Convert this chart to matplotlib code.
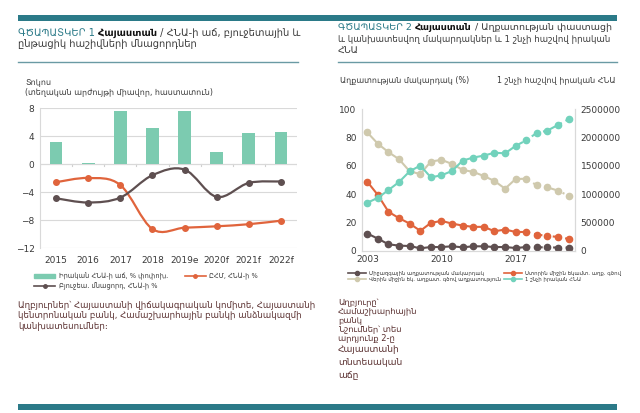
import matplotlib.pyplot as plt
from matplotlib.path import Path
from matplotlib.patches import PathPatch, Rectangle, Patch
from matplotlib.lines import Line2D

# Chart 1: GDP growth, budget and current account balances
years1 = ["2015", "2016", "2017", "2018", "2019e", "2020f", "2021f", "2022f"]
gdp_growth = [3.2, 0.2, 7.5, 5.2, 7.6, 1.7, 4.5, 4.6]
current_acc = [-2.6, -2.0, -3.0, -9.3, -9.1, -8.9, -8.6, -8.1]
budget_bal = [-4.9, -5.5, -4.8, -1.6, -0.8, -4.7, -2.7, -2.5]

# Chart 2: poverty rates and real GDP per capita
years2 = list(range(2003, 2023))
pov_intl = [12.3, 8.7, 4.7, 3.8, 3.5, 1.9, 2.8, 2.8, 3.3, 2.6,
            3.3, 3.3, 2.8, 2.8, 2.1, 2.8, 2.6, 2.6, 2.4, 2.4]
pov_lower = [48.8, 39.4, 27.6, 23.1, 19.3, 14.2, 19.8, 21.2, 19.3, 17.9,
             17.0, 17.0, 13.9, 15.1, 13.4, 13.4, 11.6, 10.6, 9.9, 8.5]
pov_upper = [83.5, 75.5, 69.6, 64.6, 56.1, 54.2, 63.0, 64.2, 61.3, 57.1,
             55.7, 52.8, 49.3, 43.9, 50.7, 50.9, 46.2, 44.8, 42.5, 38.9]
gdp_pc = [849000, 937000, 1073000, 1215000, 1403000, 1504000, 1297000, 1333000,
          1409000, 1592000, 1645000, 1680000, 1730000, 1720000, 1850000, 1950000,
          2080000, 2120000, 2220000, 2320000]
last_actual = 2017

TEAL_DARK = "#2b7a88"
BAR = "#7ccbb0"
ORANGE = "#e0643c"
DARK = "#5e4f50"
BEIGE = "#cfc9ad"
TEAL = "#72d2bc"
TXT = "#3a3a3a"
SRC = "#5a3030"
TSIZE = 7.1


def smooth_path(x, y):
    # Excel-like smoothed line through the points (Catmull-Rom as Bezier)
    verts = [(x[0], y[0])]
    codes = [Path.MOVETO]
    n = len(x)
    for i in range(n - 1):
        xa, ya = (x[i - 1], y[i - 1]) if i > 0 else (x[i], y[i])
        xd, yd = (x[i + 2], y[i + 2]) if i + 2 < n else (x[i + 1], y[i + 1])
        c1 = (x[i] + (x[i + 1] - xa) / 6, y[i] + (y[i + 1] - ya) / 6)
        c2 = (x[i + 1] - (xd - x[i]) / 6, y[i + 1] - (yd - y[i]) / 6)
        verts += [c1, c2, (x[i + 1], y[i + 1])]
        codes += [Path.CURVE4] * 3
    return Path(verts, codes)


fig = plt.figure(figsize=(6.4, 4.13), dpi=100)
W, H = 640, 413


def fx(px):
    return px / W


def fy(py):
    return 1 - py / H


def title(x, y, parts, size=TSIZE):
    t = fig.text(x, y, parts[0][0], color=parts[0][1], fontweight=parts[0][2],
                 fontsize=size, ha="left", va="bottom")
    for txt, color, weight in parts[1:]:
        a = plt.Annotation(txt, xy=(1, 0), xycoords=t, color=color,
                           fontweight=weight, fontsize=size,
                           ha="left", va="bottom", annotation_clip=False)
        fig.add_artist(a)
        t = a


# decorative bars and rules
fig.add_artist(Rectangle((fx(18), fy(21)), fx(599), 6 / H, transform=fig.transFigure,
                         color=TEAL_DARK, lw=0))
fig.add_artist(Rectangle((fx(18), fy(410)), fx(599), 6 / H, transform=fig.transFigure,
                         color=TEAL_DARK, lw=0))
fig.add_artist(Line2D([fx(18), fx(298)], [fy(62), fy(62)], transform=fig.transFigure,
                      color="#6a9aa4", lw=1))
fig.add_artist(Line2D([fx(338), fx(617)], [fy(62), fy(62)], transform=fig.transFigure,
                      color="#6a9aa4", lw=1))

# ---------- left chart ----------
ax1 = fig.add_axes([fx(40), fy(248), fx(257), (248 - 108) / H])
xs = list(range(len(years1)))
ax1.bar(xs, gdp_growth, width=0.4, color=BAR, zorder=2)
for vals, col in [(current_acc, ORANGE), (budget_bal, DARK)]:
    ax1.add_patch(PathPatch(smooth_path(xs, vals), fill=False, edgecolor=col, lw=1.6, zorder=3))
    ax1.plot(xs, vals, "o", color=col, ms=4, zorder=4)
ax1.set_xlim(-0.5, len(years1) - 0.5)
ax1.set_ylim(-12, 8)
ax1.set_yticks([-12, -8, -4, 0, 4, 8])
ax1.set_xticks(xs)
ax1.set_xticklabels(years1)
ax1.grid(axis="y", color="#d9d9d9", lw=0.8, zorder=0)
ax1.axhline(0, color="#d0d0d0", lw=0.8, zorder=1)
for b in [i - 0.5 for i in range(len(years1) + 1)]:
    ax1.plot([b, b], [0, -0.3], color="#d0d0d0", lw=0.8, zorder=1)
for s in ["top", "right", "bottom"]:
    ax1.spines[s].set_visible(False)
ax1.spines["left"].set_color("#d9d9d9")
ax1.tick_params(length=0, labelsize=6.5, colors=TXT, pad=4)
ax1.tick_params(axis="x", pad=6)

h_bar = Patch(color=BAR)
h_ca = Line2D([], [], color=ORANGE, lw=1.2, marker="o", ms=2.5)
h_bb = Line2D([], [], color=DARK, lw=1.2, marker="o", ms=2.5)
fig.legend([h_bar, h_bb, h_ca],
           ["Իրական ՀՆԱ-ի աճ, % փոփոխ.", "Բյուջեա. մնացորդ, ՀՆԱ-ի %", "ԸՀՄ, ՀՆԱ-ի %"],
           ncol=2, loc="upper left", bbox_to_anchor=(fx(28), fy(267)), frameon=False,
           fontsize=4.8, handlelength=3.2, handleheight=0.6, columnspacing=2.5,
           labelspacing=0.35, handletextpad=0.5, labelcolor=TXT)

fig.text(fx(25), fy(85), "Տոկոս", fontsize=5.8, color=TXT)
fig.text(fx(25), fy(95), "(տեղական արժույթի միավոր, հաստատուն)", fontsize=5.8, color=TXT)

src1 = ["Աղբյուրներ՝ Հայաստանի վիճակագրական կոմիտե, Հայաստանի",
        "կենտրոնական բանկ, Համաշխարհային բանկի անձնակազմի",
        "կանխատեսումներ։"]
for i, line in enumerate(src1):
    fig.text(fx(18), fy(308 + i * 10.5), line, fontsize=6.2, color=SRC)

# ---------- right chart ----------
ax2 = fig.add_axes([fx(362), fy(251), fx(575 - 362), (251 - 109) / H])
ax3 = ax2.twinx()
k = years2.index(last_actual) + 1
for axis, vals, col in [(ax2, pov_intl, DARK), (ax2, pov_lower, ORANGE),
                        (ax2, pov_upper, BEIGE), (ax3, gdp_pc, TEAL)]:
    axis.plot(years2[:k], vals[:k], color=col, lw=1.5, zorder=3)
    axis.plot(years2[k - 1:], vals[k - 1:], color=col, lw=1.5, ls=(0, (4, 2, 1, 2)), zorder=3)
    axis.plot(years2, vals, "o", color=col, ms=4.5, zorder=4)
ax2.set_xlim(2002.5, 2022.6)
ax2.set_ylim(0, 100)
ax3.set_ylim(0, 2500000)
ax2.set_yticks([0, 20, 40, 60, 80, 100])
ax3.set_yticks([0, 500000, 1000000, 1500000, 2000000, 2500000])
ax3.set_yticklabels(["0", "500000", "1000000", "1500000", "2000000", "2500000"])
ax2.set_xticks([2003, 2010, 2017])
for a in (ax2, ax3):
    a.spines["top"].set_visible(False)
    for s in ["left", "right", "bottom"]:
        a.spines[s].set_color("#d9d9d9")
    a.tick_params(length=0, labelsize=6.5, colors=TXT, pad=4)
ax2.tick_params(axis="x", pad=3)

fig.text(fx(340), fy(83), "Աղքատության մակարդակ (%)", fontsize=5.8, color=TXT)
fig.text(fx(497), fy(83), "1 շնչի հաշվով իրական ՀՆԱ", fontsize=5.8, color=TXT)

hd = [Line2D([], [], color=c, lw=1.2, marker="o", ms=3) for c in (DARK, BEIGE, ORANGE, TEAL)]
fig.legend(hd, ["Միջազգային աղքատության մակարդակ",
                "Վերին միջին եկ. աղքատ. գծով աղքատություն",
                "Ստորին միջին եկամտ. աղք. գծով",
                "1 շնչի իրական ՀՆԱ"],
           ncol=2, loc="upper left", bbox_to_anchor=(fx(343), fy(266)), frameon=False,
           fontsize=3.9, handlelength=3.3, columnspacing=0.5, labelspacing=0.2,
           handletextpad=0.6, labelcolor=TXT)

src2 = [("Աղբյուրը՝", 302, 6.0), ("Համաշխարհային", 311, 6.0), ("բանկ", 320, 6.0),
        ("Նշումներ՝ տես", 329, 6.0), ("արդյունք 2-ը", 338, 6.0),
        ("Հայաստանի", 349, 6.6), ("տնտեսական", 362, 6.6), ("աճը", 375, 6.6)]
for line, py, sz in src2:
    fig.text(fx(338), fy(py + 3), line, fontsize=sz, color=SRC)

# ---------- titles ----------
title(fx(18), fy(38), [("ԳԾԱՊԱՏԿԵՐ 1 ", TEAL_DARK, "normal"),
                       ("Հայաստան", "#111111", "bold"),
                       (" / ՀՆԱ-ի աճ, բյուջետային և", TXT, "normal")])
fig.text(fx(18), fy(50), "ընթացիկ հաշիվների մնացորդներ", color=TXT, fontsize=TSIZE,
         va="bottom")

title(fx(338), fy(32), [("ԳԾԱՊԱՏԿԵՐ 2 ", TEAL_DARK, "normal"),
                        ("Հայաստան", "#111111", "bold"),
                        (" / Աղքատության փաստացի", TXT, "normal")], size=6.8)
fig.text(fx(338), fy(44), "և կանխատեսվող մակարդակներ և 1 շնչի հաշվով իրական",
         color=TXT, fontsize=6.2, va="bottom")
fig.text(fx(338), fy(56), "ՀՆԱ", color=TXT, fontsize=6.8, va="bottom")

fig.savefig("out.png", dpi=100)
